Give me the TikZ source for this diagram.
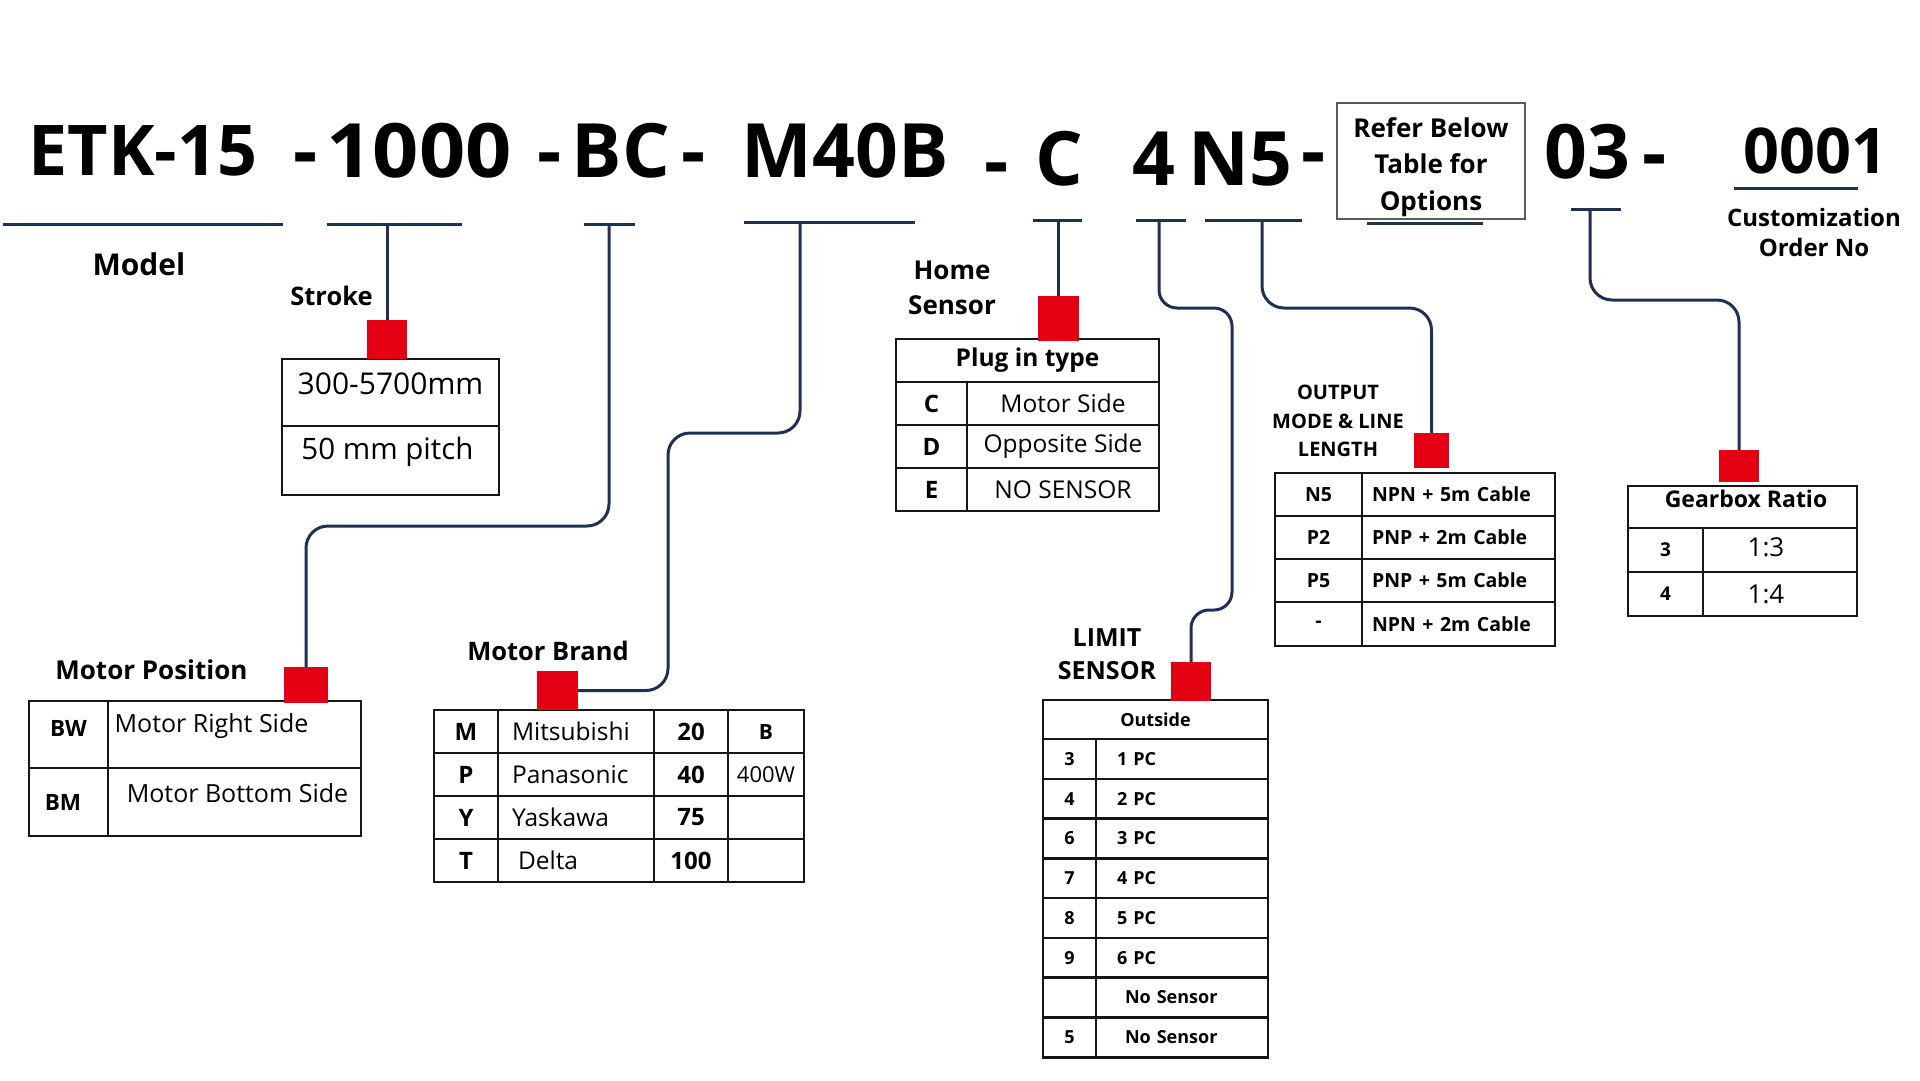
\documentclass[tikz,border=0pt]{standalone}
\usepackage{fontspec}
\usepackage{graphicx}
\setmainfont{Open Sans}
\usetikzlibrary{positioning}
\definecolor{linenavy}{RGB}{33,48,82}
\definecolor{tagred}{RGB}{227,0,18}
\definecolor{cellline}{RGB}{22,22,22}
\definecolor{boxgray}{RGB}{90,90,90}

\begin{document}
\begin{tikzpicture}[x=1pt, y=-1pt,
    boldsans/.style={font=\bfseries\fontsize{#1}{#1}\selectfont},
    plainsans/.style={font=\fontsize{#1}{#1}\selectfont},
    codepart/.style={boldsans=75, anchor=base, inner sep=0pt},
    uline/.style={draw=linenavy, line width=3pt},
    conn/.style={draw=linenavy, line width=3pt, rounded corners=22pt},
    tag/.style={rectangle, fill=tagred, inner sep=0pt},
    cell/.style={rectangle, draw=cellline, line width=2.5pt, inner sep=0pt, align=center},
    caption/.style={inner sep=0pt, align=center}
  ]
    \useasboundingbox[fill=white] (0,0) rectangle (1920,1080);

    % Part number
    \node[codepart, boldsans=70] (cModel) at (143,175) {ETK-15};
    \node[codepart] (cDash1)  at (306,177)    {-};
    \node[codepart] (cStroke) at (419,177)    {\scalebox{1.08}[1]{1000}};
    \node[codepart] (cDash2)  at (549.5,177)  {-};
    \node[codepart] (cPos)    at (621,177)    {BC};
    \node[codepart] (cDash3)  at (693.5,177)  {-};
    \node[codepart] (cBrand)  at (845,177)    {M40B};
    \node[codepart] (cDash4)  at (997,187)    {-};
    \node[codepart] (cHome)   at (1059.5,185) {C};
    \node[codepart] (cLimit)  at (1154,185)   {4};
    \node[codepart] (cOut)    at (1240,185)   {N5};
    \node[codepart] (cDash5)  at (1313.5,177) {-};
    \node[codepart] (cGear)   at (1587,178)   {03};
    \node[codepart] (cDash6)  at (1654.5,179) {-};
    \node[codepart, boldsans=63] (cOrder) at (1815.5,173) {0001};
    \node[draw=boxgray, line width=1.3pt, minimum width=188, minimum height=116, inner sep=0pt,
          label={[boldsans=26, font=\bfseries\fontsize{26}{36.5}\selectfont, align=center, yshift=-6pt]center:Refer Below\\Table for\\Options}]
          (refer) at (1431,161) {};

    % Underlines
    \draw[uline] (3,224) -- (283,224);
    \draw[uline] (327,224) -- (462,224);
    \draw[uline] (584,224) -- (635,224);
    \draw[uline] (744,222) -- (915,222);
    \draw[uline] (1033,220) -- (1082,220);
    \draw[uline] (1136,220) -- (1186,220);
    \draw[uline] (1205,220) -- (1302,220);
    \draw[uline] (1367,223) -- (1483,223);
    \draw[uline] (1571,209) -- (1621,209);
    \draw[uline] (1734,188) -- (1858,188);
    \coordinate (uStroke) at (387,224);
    \coordinate (uBC)     at (609,224);
    \coordinate (uM)      at (800,222);
    \coordinate (uC)      at (1058.5,220);
    \coordinate (u4)      at (1159,220);
    \coordinate (uN)      at (1262,220);
    \coordinate (u03)     at (1590,209);

    % Labels
    \node[caption, boldsans=30, anchor=base]   (lModel)  at (139,275)   {Model};
    \node[caption, boldsans=25.5, anchor=base] (lStroke) at (331.5,305) {Stroke};
    \node[caption, font=\bfseries\fontsize{26}{35}\selectfont] (lHome) at (952,288) {Home\\Sensor};
    \node[caption, boldsans=26, anchor=base]   (lPos)    at (151.5,679) {Motor Position};
    \node[caption, boldsans=25.5, anchor=base] (lBrand)  at (548,660)   {Motor Brand};
    \node[caption, font=\bfseries\fontsize{25}{33}\selectfont] (lLimit) at (1107,654) {LIMIT\\SENSOR};
    \node[caption, font=\bfseries\fontsize{20}{28.5}\selectfont] (lOut) at (1338,421)
      {OUTPUT\\MODE \& LINE\\LENGTH};
    \node[caption, font=\bfseries\fontsize{24}{30}\selectfont] (lOrder) at (1814,232)
      {Customization\\Order No};

    % Connectors
    \draw[conn] (uStroke) -- (387,320);
    \draw[conn] (uBC) |- (306,526) -- (306,667);
    \draw[conn] (uM) |- (668,433) |- (577,690.5);
    \draw[conn] (uC) -- (1058.5,296);
    \draw[conn, rounded corners=18pt] (u4) |- (1232,308) |- (1191,610) -- (1191,662);
    \draw[conn] (uN) |- (1431.5,308) -- (1431.5,433);
    \draw[conn] (u03) |- (1739,300) -- (1739,450);

    % Stroke table
    \node[cell, minimum width=217, minimum height=67,
          label={[plainsans=30, yshift=9pt]center:300-5700mm}] (strk1) at (390.5,392.5) {};
    \node[cell, minimum width=217, minimum height=69,
          label={[plainsans=29.5, xshift=-3pt, yshift=8.5pt]center:50 mm pitch}] (strk2) at (390.5,460.5) {};

    % Motor position table
    \node[cell, minimum width=79, minimum height=67,
          label={[boldsans=22.5, yshift=6.5pt]center:BW}] (pos11) at (68.5,734.5) {};
    \node[cell, minimum width=253, minimum height=67,
          label={[plainsans=25, xshift=-23pt, yshift=8.5pt]center:Motor Right Side}] (pos12) at (234.5,734.5) {};
    \node[cell, minimum width=79, minimum height=68,
          label={[boldsans=22.5, xshift=-5.5pt]center:BM}] (pos21) at (68.5,802) {};
    \node[cell, minimum width=253, minimum height=68,
          label={[plainsans=25, xshift=3pt, yshift=9pt]center:Motor Bottom Side}] (pos22) at (234.5,802) {};

    % Motor brand table
    \node[cell, boldsans=24, minimum width=64, minimum height=43] (br11) at (466,731.5) {M};
    \node[cell, plainsans=24.5, minimum width=156, minimum height=43, text width=128, align=left] (br12) at (576,731.5) {Mitsubishi};
    \node[cell, boldsans=24, minimum width=74, minimum height=43] (br13) at (691,731.5) {20};
    \node[cell, boldsans=21, minimum width=76, minimum height=43] (br14) at (766,731.5) {B};
    \node[cell, boldsans=24, minimum width=64, minimum height=43] (br21) at (466,774.5) {P};
    \node[cell, plainsans=24.5, minimum width=156, minimum height=43, text width=128, align=left] (br22) at (576,774.5) {Panasonic};
    \node[cell, boldsans=24, minimum width=74, minimum height=43] (br23) at (691,774.5) {40};
    \node[cell, plainsans=22, minimum width=76, minimum height=43] (br24) at (766,774.5) {400W};
    \node[cell, boldsans=24, minimum width=64, minimum height=43] (br31) at (466,817.5) {Y};
    \node[cell, plainsans=24.5, minimum width=156, minimum height=43, text width=128, align=left] (br32) at (576,817.5) {Yaskawa};
    \node[cell, boldsans=24, minimum width=74, minimum height=43] (br33) at (691,817.5) {75};
    \node[cell, minimum width=76, minimum height=43] (br34) at (766,817.5) {};
    \node[cell, boldsans=24, minimum width=64, minimum height=43] (br41) at (466,860.5) {T};
    \node[cell, plainsans=24.5, minimum width=156, minimum height=43, text width=128, align=left] (br42) at (576,860.5) {\hspace*{6pt}Delta};
    \node[cell, boldsans=24, minimum width=74, minimum height=43] (br43) at (691,860.5) {100};
    \node[cell, minimum width=76, minimum height=43] (br44) at (766,860.5) {};

    % Home sensor table
    \node[cell, boldsans=24.5, minimum width=263, minimum height=43] (plug0) at (1027.5,360.5) {Plug in type};
    \node[cell, boldsans=24, minimum width=71, minimum height=43] (plug11) at (931.5,403.5) {C};
    \node[cell, plainsans=24.5, minimum width=192, minimum height=43] (plug12) at (1063,403.5) {Motor Side};
    \node[cell, boldsans=24, minimum width=71, minimum height=43] (plug21) at (931.5,446.5) {D};
    \node[cell, plainsans=24.5, minimum width=192, minimum height=43] (plug22) at (1063,446.5) {Opposite Side};
    \node[cell, boldsans=24, minimum width=71, minimum height=43] (plug31) at (931.5,489.5) {E};
    \node[cell, plainsans=24.5, minimum width=192, minimum height=43] (plug32) at (1063,489.5) {NO SENSOR};

    % Limit sensor table
    \node[cell, boldsans=18, minimum width=225, minimum height=39] (lim0) at (1155.5,719.5) {Outside};
    \node[cell, boldsans=18, minimum width=53, minimum height=40] (lim11) at (1069.5,759) {3};
    \node[cell, boldsans=18, minimum width=172, minimum height=40, text width=130, align=left] (lim12) at (1182,759) {1 PC};
    \node[cell, boldsans=18, minimum width=53, minimum height=40] (lim21) at (1069.5,799) {4};
    \node[cell, boldsans=18, minimum width=172, minimum height=40, text width=130, align=left] (lim22) at (1182,799) {2 PC};
    \node[cell, boldsans=18, minimum width=53, minimum height=40] (lim31) at (1069.5,838.5) {6};
    \node[cell, boldsans=18, minimum width=172, minimum height=40, text width=130, align=left] (lim32) at (1182,838.5) {3 PC};
    \node[cell, boldsans=18, minimum width=53, minimum height=40] (lim41) at (1069.5,878) {7};
    \node[cell, boldsans=18, minimum width=172, minimum height=40, text width=130, align=left] (lim42) at (1182,878) {4 PC};
    \node[cell, boldsans=18, minimum width=53, minimum height=40] (lim51) at (1069.5,918) {8};
    \node[cell, boldsans=18, minimum width=172, minimum height=40, text width=130, align=left] (lim52) at (1182,918) {5 PC};
    \node[cell, boldsans=18, minimum width=53, minimum height=40] (lim61) at (1069.5,958) {9};
    \node[cell, boldsans=18, minimum width=172, minimum height=40, text width=130, align=left] (lim62) at (1182,958) {6 PC};
    \node[cell, boldsans=18, minimum width=53, minimum height=40] (lim71) at (1069.5,997.5) {};
    \node[cell, boldsans=18, minimum width=172, minimum height=40, text width=130, align=left] (lim72) at (1182,997.5) {\hspace*{8pt}No Sensor};
    \node[cell, boldsans=18, minimum width=53, minimum height=40] (lim81) at (1069.5,1037.5) {5};
    \node[cell, boldsans=18, minimum width=172, minimum height=40, text width=130, align=left] (lim82) at (1182,1037.5) {\hspace*{8pt}No Sensor};

    % Output mode table
    \node[cell, boldsans=19.5, minimum width=87, minimum height=43] (out11) at (1318.5,494.5) {N5};
    \node[cell, boldsans=19.5, minimum width=193, minimum height=43, text width=173, align=left] (out12) at (1458.5,494.5) {NPN + 5m Cable};
    \node[cell, boldsans=19.5, minimum width=87, minimum height=43] (out21) at (1318.5,537.5) {P2};
    \node[cell, boldsans=19.5, minimum width=193, minimum height=43, text width=173, align=left] (out22) at (1458.5,537.5) {PNP + 2m Cable};
    \node[cell, boldsans=19.5, minimum width=87, minimum height=43] (out31) at (1318.5,580.5) {P5};
    \node[cell, boldsans=19.5, minimum width=193, minimum height=43, text width=173, align=left] (out32) at (1458.5,580.5) {PNP + 5m Cable};
    \node[cell, boldsans=19.5, minimum width=87, minimum height=44] (out41) at (1318.5,624) {-};
    \node[cell, boldsans=19.5, minimum width=193, minimum height=44, text width=173, align=left] (out42) at (1458.5,624) {NPN + 2m Cable};

    % Gearbox table
    \node[cell, minimum width=229, minimum height=42,
          label={[boldsans=23, xshift=3.5pt, yshift=8pt]center:Gearbox Ratio}] (gear0) at (1742.5,507) {};
    \node[cell, boldsans=19, minimum width=75, minimum height=44] (gear11) at (1665.5,550) {3};
    \node[cell, minimum width=154, minimum height=44,
          label={[plainsans=26, xshift=-14pt, yshift=3pt]center:1:3}] (gear12) at (1780,550) {};
    \node[cell, boldsans=19, minimum width=75, minimum height=44] (gear21) at (1665.5,594) {4};
    \node[cell, minimum width=154, minimum height=44,
          label={[plainsans=26, xshift=-14pt]center:1:4}] (gear22) at (1780,594) {};

    % Option tags
    \node[tag, minimum width=40, minimum height=39] (tStroke) at (387,339.5) {};
    \node[tag, minimum width=44, minimum height=36] (tPos)    at (306,685) {};
    \node[tag, minimum width=41, minimum height=39] (tBrand)  at (557,690.5) {};
    \node[tag, minimum width=41, minimum height=45] (tHome)   at (1058.5,318.5) {};
    \node[tag, minimum width=40, minimum height=39] (tLimit)  at (1191,681.5) {};
    \node[tag, minimum width=35, minimum height=35] (tOut)    at (1431.5,450.5) {};
    \node[tag, minimum width=40, minimum height=32] (tGear)   at (1739,466) {};
  \end{tikzpicture}
\end{document}
